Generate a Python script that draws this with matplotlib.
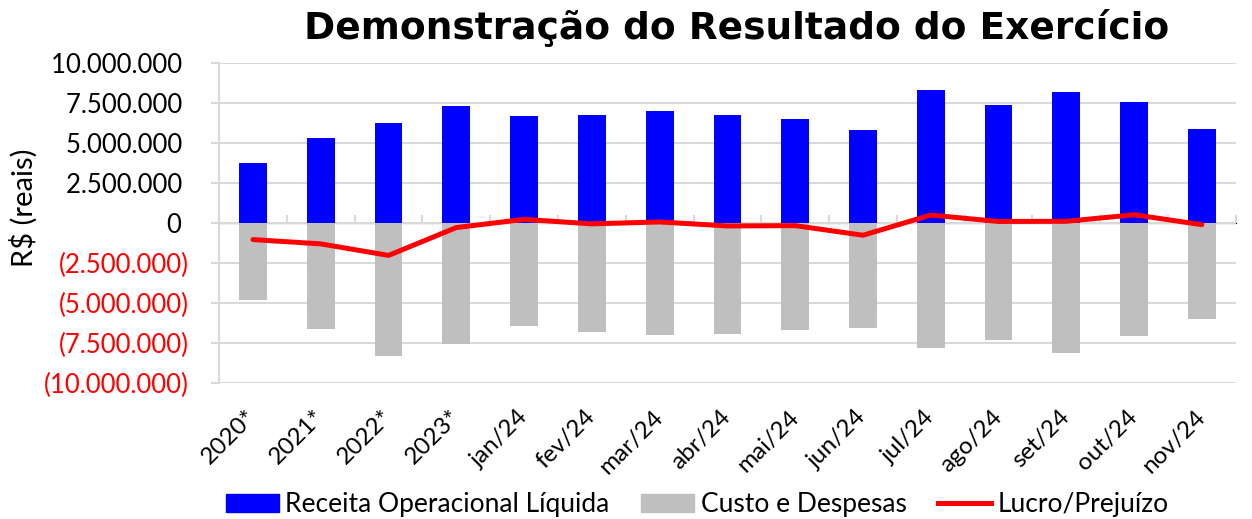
import matplotlib
matplotlib.use("Agg")
import matplotlib.pyplot as plt
from matplotlib.patches import Patch
from matplotlib.lines import Line2D
from matplotlib.ticker import FuncFormatter

# periods and values (R$)
periods = ['2020*', '2021*', '2022*', '2023*', 'jan/24', 'fev/24', 'mar/24', 'abr/24',
           'mai/24', 'jun/24', 'jul/24', 'ago/24', 'set/24', 'out/24', 'nov/24']
receita = [3770000, 5330000, 6250000, 7290000, 6670000, 6730000, 6960000, 6710000,
           6500000, 5790000, 8290000, 7370000, 8190000, 7540000, 5875000]
custos = [-4810000, -6650000, -8310000, -7580000, -6460000, -6810000, -6980000, -6920000,
          -6670000, -6580000, -7810000, -7310000, -8125000, -7040000, -6000000]
lucro = [-1040000, -1310000, -2030000, -290000, 220000, -60000, 60000, -190000,
         -170000, -770000, 490000, 90000, 100000, 510000, -110000]
yticks = [-10000000, -7500000, -5000000, -2500000, 0, 2500000, 5000000, 7500000, 10000000]

plt.rcParams['font.family'] = ['Lato', 'DejaVu Sans']

Bcolor = '#0000FF'
Gcolor = '#BFBFBF'
Rcolor = '#FF0000'
gridc = '#D9D9D9'

fig = plt.figure(figsize=(12.52, 5.19), dpi=100)
ax = fig.add_axes([0.175, 0.262, 0.812, 0.617])

x = list(range(len(periods)))
ax.bar(x, receita, width=0.41, color=Bcolor, zorder=2)
ax.bar(x, custos, width=0.41, color=Gcolor, zorder=2)
ax.plot(x, lucro, color=Rcolor, lw=3.6, solid_capstyle='round', zorder=4)

ax.set_xlim(-0.5, len(periods) - 0.5)
ax.set_ylim(-10000000, 10000000)
ax.set_yticks(yticks)


def fmt(v, pos):
    s = '{:,.0f}'.format(abs(v)).replace(',', '.')
    return '(' + s + ')' if v < 0 else s + ' '


ax.yaxis.set_major_formatter(FuncFormatter(fmt))
ax.yaxis.grid(True, color=gridc, lw=1.5, zorder=0)
ax.set_axisbelow(True)
for sp in ['top', 'right', 'bottom']:
    ax.spines[sp].set_visible(False)
ax.spines['left'].set_color(gridc)
ax.spines['left'].set_linewidth(1.5)
ax.tick_params(axis='y', colors=gridc, length=6, width=1.5, labelsize=18.5, labelcolor='black', pad=16)
for lab, v in zip(ax.get_yticklabels(), yticks):
    if v < 0:
        lab.set_color(Rcolor)

ax.set_xticks(x)
ax.set_xticklabels(periods, rotation=45, ha='right', va='center', rotation_mode='anchor', fontsize=17.5)
ax.tick_params(axis='x', length=0, pad=22)

# zero line with category boundary ticks
zax = ax.secondary_xaxis(0.5)
zax.set_xticks([k - 0.5 for k in range(len(periods) + 1)])
zax.set_xticklabels([])
zax.spines['bottom'].set_color(gridc)
zax.spines['bottom'].set_linewidth(1.5)
zax.tick_params(axis='x', colors=gridc, length=6, width=1.5)

ax.set_ylabel('R$ (reais)', fontsize=21)
ax.yaxis.set_label_coords(-0.178, 0.547)

fig.text(0.588, 0.925, 'Demonstração do Resultado do Exercício', fontsize=27, fontweight='bold',
         family='DejaVu Sans', ha='center', va='baseline')

handles = [Patch(color=Bcolor), Patch(color=Gcolor), Line2D([0], [0], color=Rcolor, lw=3.6)]
fig.legend(handles, ['Receita Operacional Líquida', 'Custo e Despesas', 'Lucro/Prejuízo'],
           loc='center', bbox_to_anchor=(0.557, 0.027), ncol=3, frameon=False, fontsize=19,
           handlelength=2.0, handleheight=0.65, handletextpad=0.25, columnspacing=1.2,
           borderpad=0)

plt.savefig('out.png', dpi=100)
